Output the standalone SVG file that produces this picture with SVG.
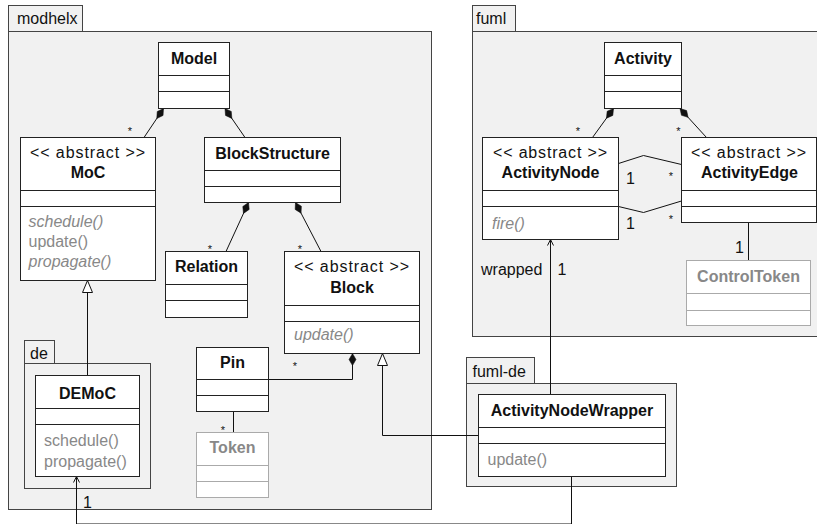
<svg xmlns="http://www.w3.org/2000/svg" width="817" height="524" viewBox="0 0 817 524">
<style>
text{font-family:"Liberation Sans",Arial,sans-serif;font-size:16px;fill:#111}
.pkg{fill:#f1f1f1;stroke:#444;stroke-width:1}
.cls{fill:#fff;stroke:#222;stroke-width:1}
.gcls{fill:#fff;stroke:#aaa;stroke-width:1}
.sep{stroke:#222;stroke-width:1}
.gsep{stroke:#aaa;stroke-width:1}
.n{font-weight:bold;text-anchor:middle}
.gn{font-weight:bold;text-anchor:middle;fill:#888}
.ab{text-anchor:middle}
.op{fill:#888}
.it{font-style:italic;fill:#888}
.st{font-size:11px;text-anchor:middle}
.c{fill:none;stroke:#111;stroke-width:1}
</style>
<defs>
<marker id="dia" markerUnits="userSpaceOnUse" orient="auto" refX="0" refY="0" markerWidth="14" markerHeight="8" overflow="visible">
<path d="M0,0 L6,-3.5 L12,0 L6,3.5 Z" fill="#111" stroke="#111" stroke-width="0.5"/>
</marker>
<marker id="tri" markerUnits="userSpaceOnUse" orient="auto" refX="0" refY="0" markerWidth="14" markerHeight="12" overflow="visible">
<path d="M-12,-5 L0,0 L-12,5 Z" fill="#fff" stroke="#111" stroke-width="1"/>
</marker>
<marker id="open" markerUnits="userSpaceOnUse" orient="auto" refX="0" refY="0" markerWidth="8" markerHeight="8" overflow="visible">
<path d="M-6,-3 L0,0 L-6,3" fill="none" stroke="#111" stroke-width="1"/>
</marker>
</defs>

<g id="pkg-modhelx">
<rect class="pkg" x="8.5" y="5.5" width="74" height="26"/>
<rect class="pkg" x="8.5" y="31.5" width="423" height="478"/>
<text x="17" y="24">modhelx</text>
</g>
<g id="pkg-fuml">
<rect class="pkg" x="472.5" y="5.5" width="43" height="26"/>
<rect class="pkg" x="472.5" y="31.5" width="350" height="305"/>
<text x="476" y="24">fuml</text>
</g>
<g id="pkg-de">
<rect class="pkg" x="24.5" y="340.5" width="30" height="23"/>
<rect class="pkg" x="24.5" y="363.5" width="126" height="125"/>
<text x="30" y="359">de</text>
</g>
<g id="pkg-fuml-de">
<rect class="pkg" x="466.5" y="357.5" width="68" height="26"/>
<rect class="pkg" x="466.5" y="383.5" width="210" height="103"/>
<text x="472.5" y="377">fuml-de</text>
</g>

<g id="connectors">
<path class="c" d="M163.5,108.5 L144,137.5" marker-start="url(#dia)"/>
<path class="c" d="M225,108.5 L245,137.5" marker-start="url(#dia)"/>
<path class="c" d="M248.5,202.5 L226,251.5" marker-start="url(#dia)"/>
<path class="c" d="M295.5,202.5 L321,251.5" marker-start="url(#dia)"/>
<path class="c" d="M352.5,353.5 L352.5,379.5 L268.5,379.5" marker-start="url(#dia)"/>
<path class="c" d="M233.5,411.5 L233.5,432.5"/>
<path class="c" d="M87.5,375.5 L87.5,280.5" marker-end="url(#tri)"/>
<path class="c" d="M478.5,435.5 L382.5,435.5 L382.5,353.5" marker-end="url(#tri)"/>
<path class="c" d="M613.5,108.5 L592.5,137.5" marker-start="url(#dia)"/>
<path class="c" d="M680,108.5 L706.5,137.5" marker-start="url(#dia)"/>
<path class="c" d="M618.5,163.5 L643.5,155.5 L681.5,164.5"/>
<path class="c" d="M618.5,206.5 L643.5,212.5 L681.5,201"/>
<path class="c" d="M748.5,222.5 L748.5,260.5"/>
<path class="c" d="M550.5,394.5 L550.5,239.5" marker-end="url(#open)"/>
<path class="c" d="M571.5,476.5 L571.5,524 L76.5,524 L76.5,476.5" marker-end="url(#open)"/>
<text class="st" x="130" y="134.5">*</text>
<text class="st" x="210" y="253">*</text>
<text class="st" x="300" y="253">*</text>
<text class="st" x="295" y="370">*</text>
<text class="st" x="223" y="433.5">*</text>
<text class="st" x="578" y="134.5">*</text>
<text class="st" x="678.5" y="134.5">*</text>
<text class="st" x="671" y="180">*</text>
<text class="st" x="671" y="223">*</text>
<text x="626" y="183.5">1</text>
<text x="626" y="229">1</text>
<text x="735" y="253">1</text>
<text x="481" y="275">wrapped</text>
<text x="557.5" y="275">1</text>
<text x="83" y="508">1</text>
</g>

<g id="Model">
<rect class="cls" x="158.5" y="42.5" width="71" height="66"/>
<line class="sep" x1="158.5" y1="75.5" x2="229.5" y2="75.5"/>
<line class="sep" x1="158.5" y1="91.5" x2="229.5" y2="91.5"/>
<text class="n" x="194" y="64">Model</text>
</g>
<g id="MoC">
<rect class="cls" x="20.5" y="137.5" width="135" height="143"/>
<line class="sep" x1="20.5" y1="190.5" x2="155.5" y2="190.5"/>
<line class="sep" x1="20.5" y1="206.5" x2="155.5" y2="206.5"/>
<text class="ab" x="87.5" y="158" textLength="115" lengthAdjust="spacing">&lt;&lt; abstract &gt;&gt;</text>
<text class="n" x="88" y="178">MoC</text>
<text class="it" x="28.5" y="227">schedule()</text>
<text class="op" x="28.5" y="247">update()</text>
<text class="it" x="28.5" y="267">propagate()</text>
</g>
<g id="BlockStructure">
<rect class="cls" x="204.5" y="137.5" width="136" height="65"/>
<line class="sep" x1="204.5" y1="170.5" x2="340.5" y2="170.5"/>
<line class="sep" x1="204.5" y1="186.5" x2="340.5" y2="186.5"/>
<text class="n" x="272.5" y="159">BlockStructure</text>
</g>
<g id="Relation">
<rect class="cls" x="165.5" y="251.5" width="82" height="66"/>
<line class="sep" x1="165.5" y1="284.5" x2="247.5" y2="284.5"/>
<line class="sep" x1="165.5" y1="300.5" x2="247.5" y2="300.5"/>
<text class="n" x="206.5" y="272">Relation</text>
</g>
<g id="Block">
<rect class="cls" x="284.5" y="251.5" width="135" height="102"/>
<line class="sep" x1="284.5" y1="305.5" x2="419.5" y2="305.5"/>
<line class="sep" x1="284.5" y1="321.5" x2="419.5" y2="321.5"/>
<text class="ab" x="351.5" y="272" textLength="115" lengthAdjust="spacing">&lt;&lt; abstract &gt;&gt;</text>
<text class="n" x="352" y="293">Block</text>
<text class="it" x="294" y="340">update()</text>
</g>
<g id="Pin">
<rect class="cls" x="196.5" y="347.5" width="72" height="64"/>
<line class="sep" x1="196.5" y1="379.5" x2="268.5" y2="379.5"/>
<line class="sep" x1="196.5" y1="395.5" x2="268.5" y2="395.5"/>
<text class="n" x="232.5" y="368">Pin</text>
</g>
<g id="Token">
<rect class="gcls" x="196.5" y="432.5" width="72" height="65"/>
<line class="gsep" x1="196.5" y1="465.5" x2="268.5" y2="465.5"/>
<line class="gsep" x1="196.5" y1="481.5" x2="268.5" y2="481.5"/>
<text class="gn" x="232.5" y="453">Token</text>
</g>
<g id="DEMoC">
<rect class="cls" x="35.5" y="375.5" width="104" height="101"/>
<line class="sep" x1="35.5" y1="408.5" x2="139.5" y2="408.5"/>
<line class="sep" x1="35.5" y1="424.5" x2="139.5" y2="424.5"/>
<text class="n" x="87.5" y="399">DEMoC</text>
<text class="op" x="44" y="445.5">schedule()</text>
<text class="op" x="44" y="467">propagate()</text>
</g>
<g id="Activity">
<rect class="cls" x="604.5" y="42.5" width="77" height="66"/>
<line class="sep" x1="604.5" y1="75.5" x2="681.5" y2="75.5"/>
<line class="sep" x1="604.5" y1="91.5" x2="681.5" y2="91.5"/>
<text class="n" x="643" y="64">Activity</text>
</g>
<g id="ActivityNode">
<rect class="cls" x="482.5" y="137.5" width="136" height="102"/>
<line class="sep" x1="482.5" y1="190.5" x2="618.5" y2="190.5"/>
<line class="sep" x1="482.5" y1="206.5" x2="618.5" y2="206.5"/>
<text class="ab" x="550" y="158" textLength="114" lengthAdjust="spacing">&lt;&lt; abstract &gt;&gt;</text>
<text class="n" x="550.5" y="178">ActivityNode</text>
<text class="it" x="492" y="229">fire()</text>
</g>
<g id="ActivityEdge">
<rect class="cls" x="681.5" y="137.5" width="135" height="85"/>
<line class="sep" x1="681.5" y1="190.5" x2="816.5" y2="190.5"/>
<line class="sep" x1="681.5" y1="206.5" x2="816.5" y2="206.5"/>
<text class="ab" x="748.5" y="158" textLength="115" lengthAdjust="spacing">&lt;&lt; abstract &gt;&gt;</text>
<text class="n" x="749.5" y="178">ActivityEdge</text>
</g>
<g id="ControlToken">
<rect class="gcls" x="686.5" y="260.5" width="124" height="65"/>
<line class="gsep" x1="686.5" y1="293.5" x2="810.5" y2="293.5"/>
<line class="gsep" x1="686.5" y1="310.5" x2="810.5" y2="310.5"/>
<text class="gn" x="748.5" y="282">ControlToken</text>
</g>
<g id="ActivityNodeWrapper">
<rect class="cls" x="478.5" y="394.5" width="187" height="82"/>
<line class="sep" x1="478.5" y1="427.5" x2="665.5" y2="427.5"/>
<line class="sep" x1="478.5" y1="443.5" x2="665.5" y2="443.5"/>
<text class="n" x="572" y="415.5">ActivityNodeWrapper</text>
<text class="op" x="487.5" y="465">update()</text>
</g>
</svg>
